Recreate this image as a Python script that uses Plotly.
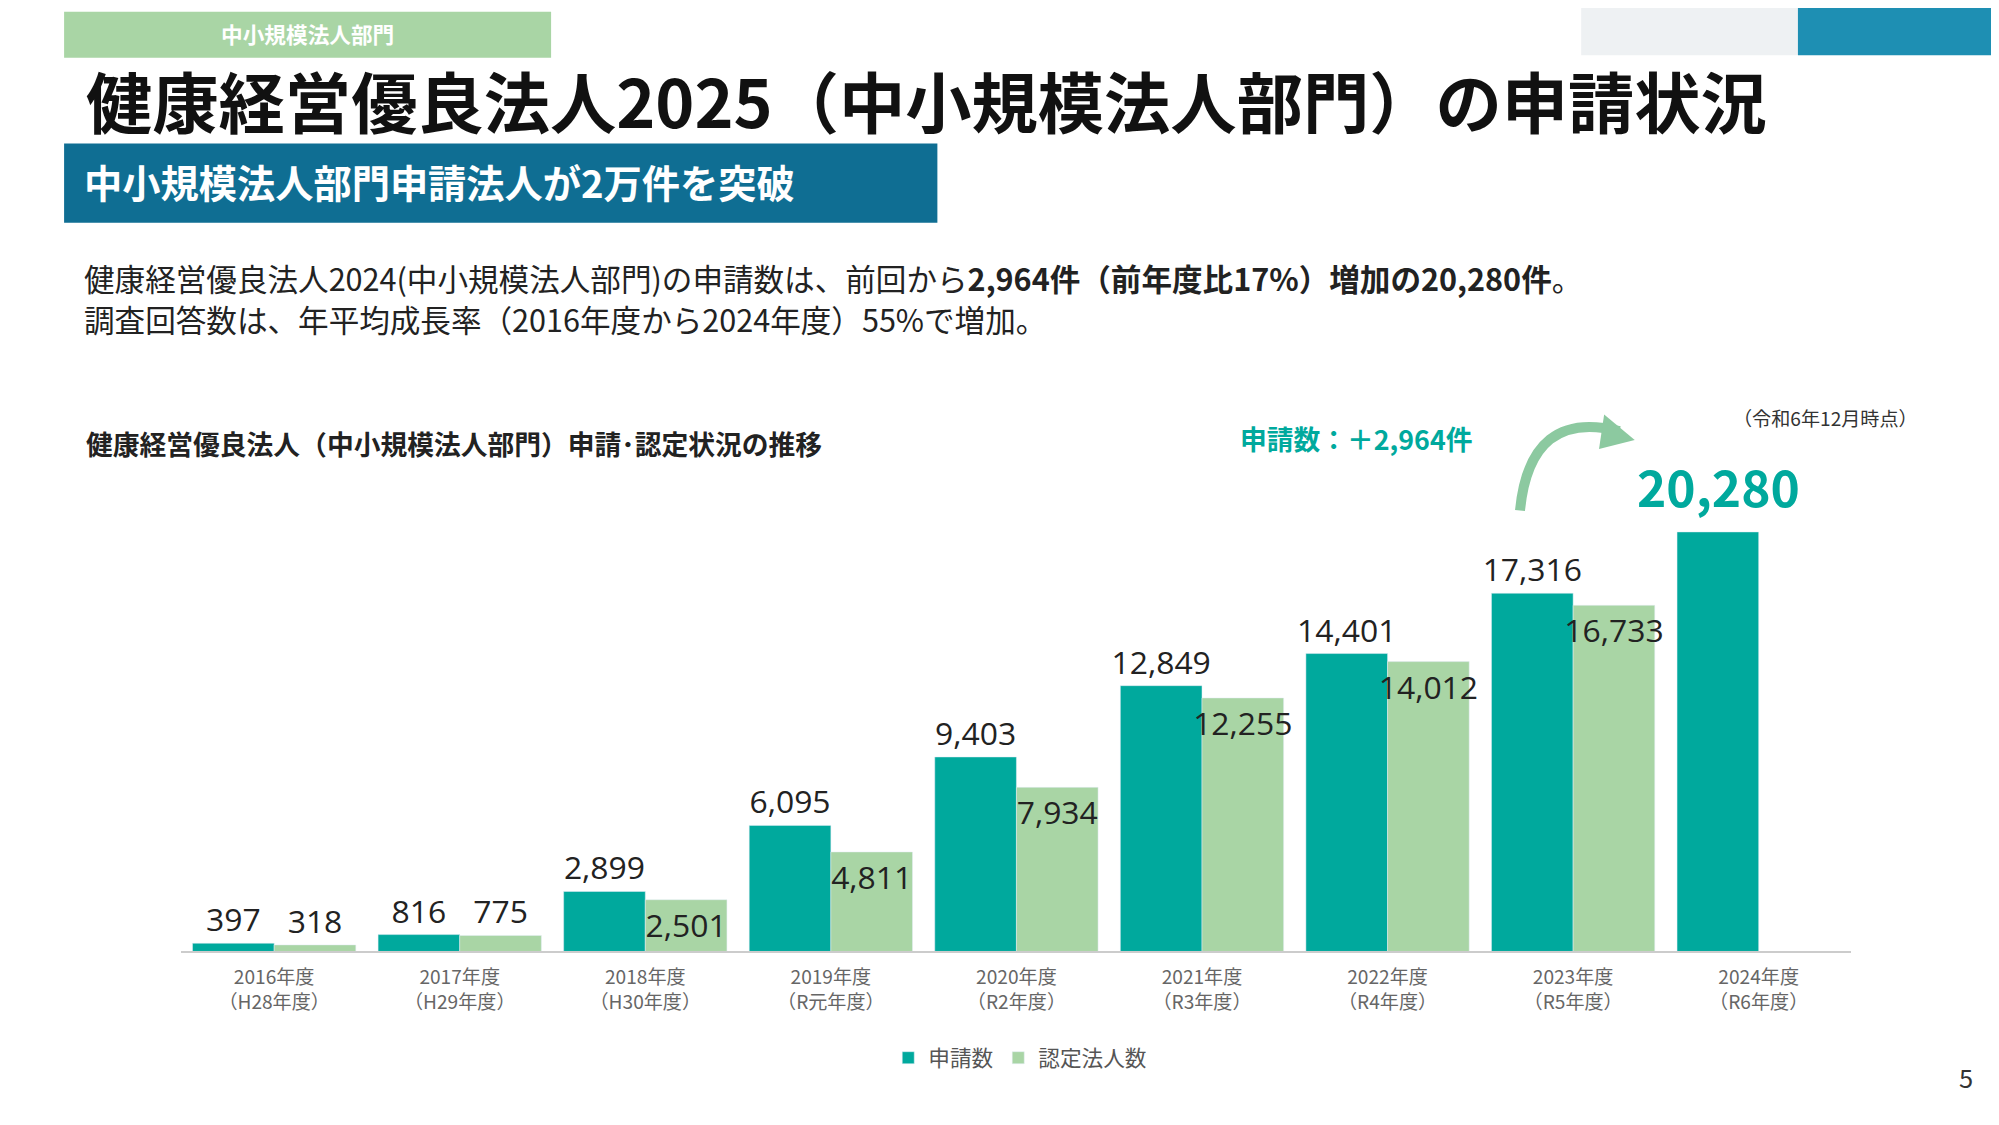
import plotly.graph_objects as go

years = ["2016年度<br>（H28年度）","2017年度<br>（H29年度）","2018年度<br>（H30年度）","2019年度<br>（R元年度）",
         "2020年度<br>（R2年度）","2021年度<br>（R3年度）","2022年度<br>（R4年度）","2023年度<br>（R5年度）","2024年度<br>（R6年度）"]
applications = [397, 816, 2899, 6095, 9403, 12849, 14401, 17316, 20280]
certified = [318, 775, 2501, 4811, 7934, 12255, 14012, 16733, None]

W, H = 1568, 880
def px(x): return (x - 6) / W
def py(y): return 1 - (y - 7) / H
S = 1999 / W
F = "Noto Sans CJK JP"
TEAL = "#00A99D"
LG = "#A9D5A5"

app_text = [f"{v:,}" for v in applications[:-1]] + [""]
cert_text = [f"{v:,}" if v is not None else "" for v in certified]
cert_pos = ["outside" if (v is not None and v < 1000) else "inside" for v in certified]

fig = go.Figure()
fig.add_bar(x=years, y=applications, name="申請数", marker_color=TEAL, text=app_text,
            textposition="outside", cliponaxis=False, constraintext="none", textangle=0,
            textfont=dict(size=25*S, color="#222", family="Open Sans"))
fig.add_bar(x=years, y=certified, name="認定法人数", marker_color=LG, text=cert_text,
            textposition=cert_pos, insidetextanchor="end", constraintext="none", textangle=0,
            cliponaxis=False, textfont=dict(size=25*S, color="#222", family="Open Sans"))

fig.update_layout(
    width=1999, height=1125, margin=dict(l=0, r=0, t=0, b=0),
    paper_bgcolor="white", plot_bgcolor="white", font=dict(family=F),
    barmode="group", bargap=0.12, bargroupgap=0,
    xaxis=dict(domain=[px(142), px(1452)], showline=True, linecolor="#ccc", linewidth=2,
               tickfont=dict(size=15*S, color="#666"), ticks="outside", ticklen=8, tickcolor="white"),
    yaxis=dict(domain=[py(745), py(389)], range=[0, 22000], visible=False),
    legend=dict(orientation="h", x=px(800), y=py(812), xanchor="center", yanchor="top",
                font=dict(size=17*S, color="#555")),
)

shapes = [
    dict(type="rect", xref="paper", yref="paper", x0=px(50), x1=px(432), y0=py(46), y1=py(10), fillcolor=LG, line_width=0),
    dict(type="rect", xref="paper", yref="paper", x0=px(50), x1=px(735), y0=py(175), y1=py(113), fillcolor="#0F6E93", line_width=0),
    dict(type="rect", xref="paper", yref="paper", x0=px(1240), x1=px(1410), y0=py(44), y1=py(7), fillcolor="#EEF1F3", line_width=0),
    dict(type="rect", xref="paper", yref="paper", x0=px(1410), x1=px(1574), y0=py(44), y1=py(7), fillcolor="#1E8FB3", line_width=0),
    dict(type="path", xref="paper", yref="paper",
         path=f"M {px(1192)},{py(400)} Q {px(1200)},{py(320)} {px(1270)},{py(338)}",
         line=dict(color="#8CC9A0", width=10)),
    dict(type="path", xref="paper", yref="paper",
         path=f"M {px(1258)},{py(325)} L {px(1282)},{py(345)} L {px(1254)},{py(352)} Z",
         fillcolor="#8CC9A0", line_width=0),
]
fig.update_layout(shapes=shapes)

def ann(x, y, text, size, color="#222", xanchor="left", bold=False):
    t = f"<b>{text}</b>" if bold else text
    fig.add_annotation(xref="paper", yref="paper", x=px(x), y=py(y), text=t, showarrow=False,
                       xanchor=xanchor, yanchor="middle", font=dict(size=size*S, color=color, family=F))

ann(241, 27, "中小規模法人部門", 17, "white", "center", True)
ann(66, 78, "健康経営優良法人2025（中小規模法人部門）の申請状況", 52, "#111", bold=True)
ann(64, 143, "中小規模法人部門申請法人が2万件を突破", 30, "white", bold=True)
ann(64, 218, "健康経営優良法人2024(中小規模法人部門)の申請数は、前回から<b>2,964件（前年度比17%）増加の20,280件</b>。", 24, "#222")
ann(64, 250, "調査回答数は、年平均成長率（2016年度から2024年度）55%で増加。", 24, "#222")
ann(66, 348, "健康経営優良法人（中小規模法人部門）申請･認定状況の推移", 21, "#222", bold=True)
ann(1063, 344, "申請数：＋2,964件", 21, TEAL, "center", True)
ann(1348, 380, "20,280", 39, TEAL, "center", True)
ann(1432, 328, "（令和6年12月時点）", 15, "#333", "center")
ann(1542, 843, "5", 20, "#333", "center")

fig.write_html("out.html")
